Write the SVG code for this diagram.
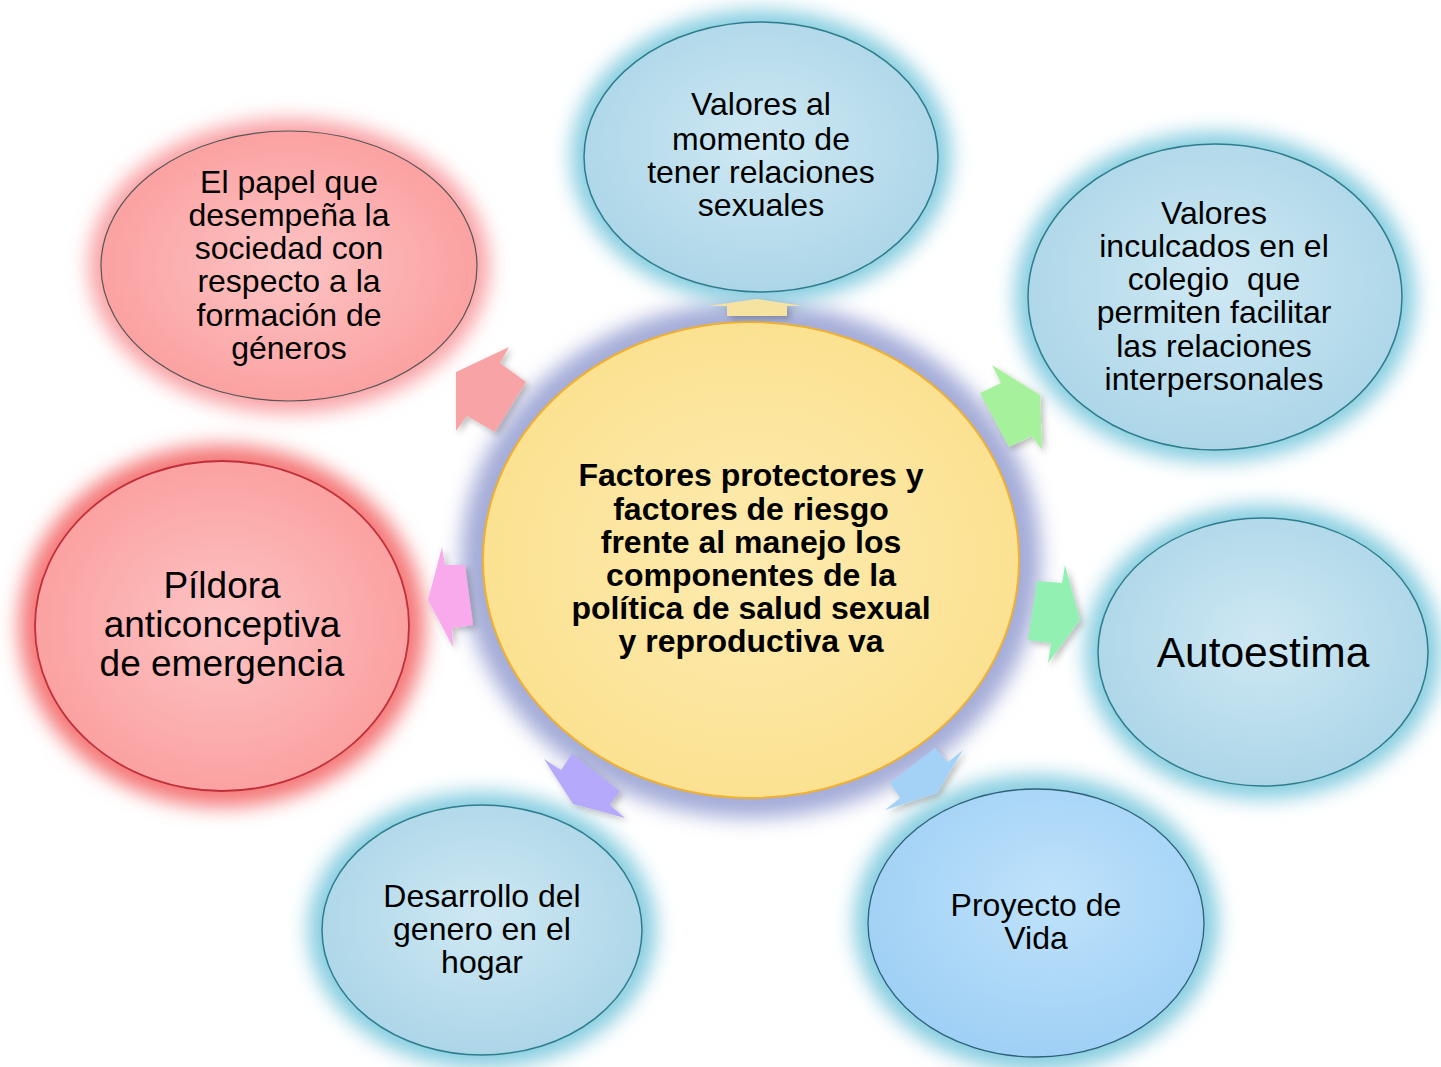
<svg xmlns="http://www.w3.org/2000/svg" width="1441" height="1067" viewBox="0 0 1441 1067">
<defs>
<filter id="glow" x="-30%" y="-30%" width="160%" height="160%"><feGaussianBlur stdDeviation="10"/></filter>
<filter id="shadow" x="-30%" y="-30%" width="160%" height="160%"><feDropShadow dx="3" dy="3" stdDeviation="3" flood-color="#000" flood-opacity="0.25"/></filter>
<radialGradient id="gBlue" cx="50%" cy="45%" r="55%"><stop offset="0" stop-color="#cfe8f3"/><stop offset="1" stop-color="#acd6e8"/></radialGradient>
<radialGradient id="gBlue2" cx="55%" cy="40%" r="60%"><stop offset="0" stop-color="#bfe2fb"/><stop offset="1" stop-color="#9fd0f5"/></radialGradient>
<radialGradient id="gRed" cx="50%" cy="50%" r="55%"><stop offset="0" stop-color="#fdc4c4"/><stop offset="1" stop-color="#fb9e9e"/></radialGradient>
<radialGradient id="gYel" cx="50%" cy="50%" r="55%"><stop offset="0" stop-color="#fdebb0"/><stop offset="1" stop-color="#fbe08e"/></radialGradient>
</defs>
<style>
text{font-family:"Liberation Sans",Arial,sans-serif;fill:#000;text-anchor:middle}
.t{font-size:32px}
.b{font-size:32px;font-weight:bold}
.blue{fill:url(#gBlue);stroke:#2e7d8c;stroke-width:1.5}
.halo-b{fill:#86cde0}
.arrow{filter:url(#shadow)}
</style>
<rect width="1441" height="1067" fill="#fff"/>

<g id="center">
<ellipse cx="751" cy="560" rx="290" ry="258" fill="#a4acd8" filter="url(#glow)"/>
<ellipse cx="751" cy="560" rx="268" ry="238" fill="url(#gYel)" stroke="#f0b030" stroke-width="2"/>
<text class="b" x="751" y="486">Factores protectores y</text>
<text class="b" x="751" y="520">factores de riesgo</text>
<text class="b" x="751" y="553">frente al manejo los</text>
<text class="b" x="751" y="586">componentes de la</text>
<text class="b" x="751" y="619">política de salud sexual</text>
<text class="b" x="751" y="652">y reproductiva va</text>
</g>

<g id="n-top">
<ellipse class="halo-b" cx="761" cy="157" rx="190" ry="147" filter="url(#glow)"/>
<ellipse class="blue" cx="761" cy="157" rx="177" ry="135"/>
<text class="t" x="761" y="115">Valores al</text>
<text class="t" x="761" y="150">momento de</text>
<text class="t" x="761" y="183">tener relaciones</text>
<text class="t" x="761" y="216">sexuales</text>
</g>

<g id="n-upper-left">
<ellipse cx="289" cy="266" rx="200" ry="147" fill="#f9a0a4" filter="url(#glow)"/>
<ellipse cx="289" cy="266" rx="188" ry="135" fill="url(#gRed)" stroke="#555" stroke-width="1.2"/>
<text class="t" x="289" y="193">El papel que</text>
<text class="t" x="289" y="226">desempeña la</text>
<text class="t" x="289" y="259">sociedad con</text>
<text class="t" x="289" y="292">respecto a la</text>
<text class="t" x="289" y="326">formación de</text>
<text class="t" x="289" y="359">géneros</text>
</g>

<g id="n-upper-right">
<ellipse class="halo-b" cx="1215" cy="297" rx="200" ry="165" filter="url(#glow)"/>
<ellipse class="blue" cx="1215" cy="297" rx="187" ry="153"/>
<text class="t" x="1214" y="224">Valores</text>
<text class="t" x="1214" y="257">inculcados en el</text>
<text class="t" x="1214" y="290" xml:space="preserve">colegio  que</text>
<text class="t" x="1214" y="323">permiten facilitar</text>
<text class="t" x="1214" y="357">las relaciones</text>
<text class="t" x="1214" y="390">interpersonales</text>
</g>

<g id="n-left">
<ellipse cx="222" cy="626" rx="203" ry="181" fill="#f57878" filter="url(#glow)"/>
<ellipse cx="222" cy="626" rx="187" ry="165" fill="url(#gRed)" stroke="#c0303a" stroke-width="1.8"/>
<text x="222" y="598" style="font-size:37px">Píldora</text>
<text x="222" y="637" style="font-size:37px">anticonceptiva</text>
<text x="222" y="676" style="font-size:37px">de emergencia</text>
</g>

<g id="n-right">
<ellipse class="halo-b" cx="1263" cy="652" rx="178" ry="147" filter="url(#glow)"/>
<ellipse class="blue" cx="1263" cy="652" rx="165" ry="134"/>
<text x="1263" y="667" style="font-size:42.5px">Autoestima</text>
</g>

<g id="n-bottom-right">
<ellipse class="halo-b" cx="1036" cy="923" rx="182" ry="148" filter="url(#glow)"/>
<ellipse cx="1036" cy="923" rx="168" ry="134" fill="url(#gBlue2)" stroke="#2e5f78" stroke-width="1.3"/>
<text class="t" x="1036" y="916">Proyecto de</text>
<text class="t" x="1036" y="949">Vida</text>
</g>

<g id="n-bottom-left">
<ellipse class="halo-b" cx="482" cy="930" rx="174" ry="138" filter="url(#glow)"/>
<ellipse class="blue" cx="482" cy="930" rx="160" ry="125"/>
<text class="t" x="482" y="907">Desarrollo del</text>
<text class="t" x="482" y="940">genero en el</text>
<text class="t" x="482" y="973">hogar</text>
</g>

<g id="connectors">
<polygon class="arrow" fill="#f6e3a2" points="708,306 757,299 803,306 787,306 787,316 727,316 727,306"/>
<polygon class="arrow" fill="#a6f29c" points="992,365 1040,395 1042,450 1032,436 1009,447 980,393 1001,383"/>
<polygon class="arrow" fill="#91f0b2" points="1065,565 1080,620 1048,663 1051,643 1028,640 1037,581 1062,583"/>
<polygon class="arrow" fill="#a4d2f6" points="963,750 937,793 885,810 900,798 890,783 935,748 948,762"/>
<polygon class="arrow" fill="#b4a9fa" points="544,759 561,770 572,754 620,791 610,805 625,818 573,804"/>
<polygon class="arrow" fill="#f8aaec" points="442,547 445,565 465,565 473,625 452,628 453,647 428,600"/>
<polygon class="arrow" fill="#f8a4a6" points="509,347 500,363 526,382 495,432 467,416 456,431 456,372"/>
</g>
</svg>
